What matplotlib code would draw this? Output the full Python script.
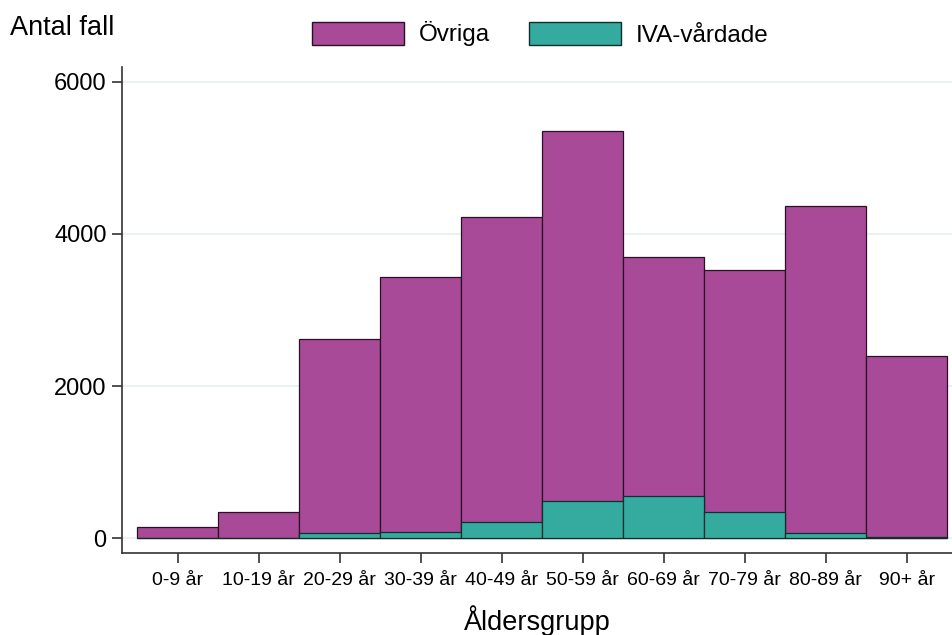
import matplotlib
matplotlib.use("Agg")
import matplotlib.pyplot as plt
import numpy as np
from matplotlib.patches import Patch

plt.rcParams['font.family'] = ['Liberation Sans', 'DejaVu Sans']

categories = ["0-9 år", "10-19 år", "20-29 år", "30-39 år", "40-49 år",
              "50-59 år", "60-69 år", "70-79 år", "80-89 år", "90+ år"]
ovriga = [140, 340, 2620, 3440, 4230, 5350, 3700, 3520, 4370, 2390]
iva = [3, 3, 62, 83, 215, 491, 548, 346, 62, 8]

purple = "#A84A98"
teal = "#35AA9E"

fig = plt.figure(figsize=(9.53, 6.35), dpi=100)
ax = fig.add_axes([122/953, (635-553)/635, 1-122/953, (553-67)/635])

x = np.arange(len(categories))
ax.bar(x, ovriga, width=1.0, color=purple, edgecolor="#2a0f25", linewidth=0.9, zorder=2)
ax.bar(x, iva, width=1.0, color=teal, edgecolor="#0f2f2c", linewidth=0.9, zorder=3)

ax.set_xlim(-0.69, 9.57)
ax.set_ylim(-197, 6197)
ax.set_yticks([0, 2000, 4000, 6000])
ax.set_yticklabels(["0", "2000", "4000", "6000"], fontsize=17)
ax.set_xticks(x)
ax.set_xticklabels(categories, fontsize=14)
ax.yaxis.grid(True, color="#E6EFF2", linewidth=1.2, zorder=0)
ax.set_axisbelow(True)
for s in ["top", "right"]:
    ax.spines[s].set_visible(False)
for s in ["left", "bottom"]:
    ax.spines[s].set_color("#333333")
    ax.spines[s].set_linewidth(1.2)
ax.tick_params(axis="y", length=7, width=1.2, color="#333333", pad=4)
ax.tick_params(axis="x", length=7, width=1.2, color="#333333", pad=7)

ax.set_xlabel("Åldersgrupp", fontsize=19.5, labelpad=11)
fig.text(10/953, 1-28/635, "Antal fall", fontsize=19.5, va="center", ha="left")

handles = [Patch(facecolor=purple, edgecolor="#2a0f25", label="Övriga"),
           Patch(facecolor=teal, edgecolor="#0f2f2c", label="IVA-vårdade")]
fig.legend(handles=handles, loc="center", bbox_to_anchor=(540/953, 1-34/635), ncol=2,
           frameon=False, fontsize=17.5, handlelength=3.8, handleheight=1.1,
           columnspacing=1.6, handletextpad=0.6, borderpad=0.2)

fig.savefig("out.png", dpi=100)
